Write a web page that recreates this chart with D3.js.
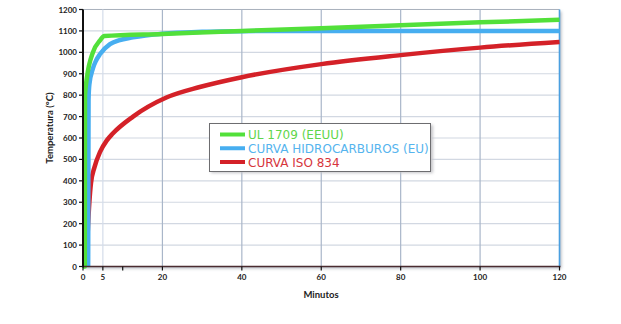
<!DOCTYPE html>
<html>
<head>
<meta charset="utf-8">
<script src="https://cdn.jsdelivr.net/npm/d3@7"></script>
<style>
  body { margin: 0; background: #fff; }
  svg { display: block; }
  .tick-label { font-family: Lato, "DejaVu Sans", sans-serif; font-weight: bold; font-size: 8px; fill: #222; }
  .axis-title { font-family: Lato, "DejaVu Sans", sans-serif; font-weight: bold; font-size: 9.5px; fill: #222; }
  .legend-text { font-family: "DejaVu Sans", Verdana, sans-serif; font-size: 12px; }
</style>
</head>
<body>
<div id="main"></div>
<script>
// tiempo (min) / temperatura (°C)
const ulTime = [0, 0.45, 0.5, 1, 2.5, 4.3, 5.4, 20, 40, 60, 80, 100, 120];
const ulTemp = [0, 0, 800, 883, 1000, 1056, 1076, 1086, 1100, 1112, 1126, 1140, 1152];

const hcTime = [1.3, 1.4, 1.6, 2.5, 3.3, 4.3, 6.8, 9, 12.6, 20, 30, 40, 60, 80, 100, 120];
const hcTemp = [0, 780, 850, 925, 962, 992, 1038, 1056, 1070, 1087, 1096, 1099, 1100, 1100, 1100, 1100];

const isoTime = [1.0, 1.25, 2, 2.9, 4.3, 6, 7.5, 12.6, 21, 29.4, 40, 60, 80, 100, 120];
const isoTemp = [80, 184, 388, 464, 535, 589, 621, 700, 789, 838, 884, 945, 987, 1022, 1048];

const seriesNames = ['UL 1709 (EEUU)', 'CURVA HIDROCARBUROS (EU)', 'CURVA ISO 834'];
const xTicks = [0, 5, 20, 40, 60, 80, 100, 120];
const xMinorTicks = [10];
const xGrid = [5, 20, 40, 60, 80, 100];
const yTicks = [0, 100, 200, 300, 400, 500, 600, 700, 800, 900, 1000, 1100, 1200];

const W = 621, H = 324;
const svg = d3.select('#main').append('svg').attr('width', W).attr('height', H);

const x = d3.scaleLinear().domain([0, 120]).range([83, 559.5]);
const y = d3.scaleLinear().domain([0, 1200]).range([266.5, 9.5]);

const defs = svg.append('defs');
const blur = defs.append('filter').attr('id', 'shadow').attr('x', '-10%').attr('y', '-10%').attr('width', '130%').attr('height', '130%');
blur.append('feGaussianBlur').attr('stdDeviation', 1.5);

// sombra del área de trazado
svg.append('rect')
    .attr('x', x(0) + 2).attr('y', y(1200) + 2)
    .attr('width', x(120) - x(0)).attr('height', y(0) - y(1200))
    .attr('fill', '#b8bcc4').attr('filter', 'url(#shadow)');
svg.append('rect')
    .attr('x', x(0)).attr('y', y(1200))
    .attr('width', x(120) - x(0)).attr('height', y(0) - y(1200))
    .attr('fill', '#fff');

// rejilla
svg.append('g').selectAll('line').data(yTicks.slice(1)).enter().append('line')
    .attr('x1', x(0)).attr('x2', x(120))
    .attr('y1', d => y(d)).attr('y2', d => y(d))
    .attr('stroke', d => d === 1200 ? '#aab2bd' : '#d2d8e2').attr('stroke-width', 1.2);

svg.append('g').selectAll('line').data(xGrid).enter().append('line')
    .attr('x1', d => x(d)).attr('x2', d => x(d))
    .attr('y1', y(0)).attr('y2', y(1200))
    .attr('stroke', d => d === 5 ? '#d4dcea' : '#a9b6c9').attr('stroke-width', 1.2);

// borde derecho
svg.append('line')
    .attr('x1', x(120)).attr('x2', x(120)).attr('y1', y(1200)).attr('y2', y(0))
    .attr('stroke', '#4a9fe0').attr('stroke-width', 1.6);

// curvas
const line = d3.line()
    .x(d => x(d[0])).y(d => y(d[1]))
    .curve(d3.curveMonotoneX);

const series = [
    { t: isoTime, v: isoTemp, color: '#d42128' },
    { t: hcTime, v: hcTemp, color: '#47aef0' },
    { t: ulTime, v: ulTemp, color: '#52e03a' }
];
svg.append('g').selectAll('path').data(series).enter().append('path')
    .attr('d', s => line(s.t.map((t, i) => [t, s.v[i]])))
    .attr('fill', 'none')
    .attr('stroke', s => s.color)
    .attr('stroke-width', 4.5)
    .attr('stroke-linejoin', 'round');

// eje inferior con sombra
svg.append('line')
    .attr('x1', x(0)).attr('x2', x(120) + 1).attr('y1', y(0) + 2).attr('y2', y(0) + 2)
    .attr('stroke', '#9a9aa4').attr('stroke-width', 2.5).attr('filter', 'url(#shadow)');
svg.append('line')
    .attr('x1', x(0)).attr('x2', x(120) + 1).attr('y1', y(0)).attr('y2', y(0))
    .attr('stroke', '#4a2c30').attr('stroke-width', 1.6);

// eje izquierdo
svg.append('line')
    .attr('x1', x(0)).attr('x2', x(0)).attr('y1', y(1200)).attr('y2', y(0) + 1)
    .attr('stroke', '#111').attr('stroke-width', 2);

const yAxis = svg.append('g');
yAxis.selectAll('line').data(yTicks).enter().append('line')
    .attr('x1', x(0) - 4).attr('x2', x(0))
    .attr('y1', d => y(d)).attr('y2', d => y(d))
    .attr('stroke', '#111').attr('stroke-width', 1.2);
yAxis.selectAll('text').data(yTicks).enter().append('text')
    .attr('class', 'tick-label')
    .attr('x', x(0) - 6).attr('y', d => y(d) + 3)
    .attr('text-anchor', 'end')
    .text(d => d);

const xAxis = svg.append('g');
xAxis.selectAll('line').data(xTicks.concat(xMinorTicks)).enter().append('line')
    .attr('x1', d => x(d)).attr('x2', d => x(d))
    .attr('y1', y(0)).attr('y2', y(0) + 4)
    .attr('stroke', '#111').attr('stroke-width', 1.2);
xAxis.selectAll('text').data(xTicks).enter().append('text')
    .attr('class', 'tick-label')
    .attr('x', d => x(d)).attr('y', y(0) + 13)
    .attr('text-anchor', 'middle')
    .text(d => d);

svg.append('text').attr('class', 'axis-title')
    .attr('x', 321).attr('y', 298)
    .attr('text-anchor', 'middle')
    .text('Minutos');

svg.append('text').attr('class', 'axis-title')
    .attr('transform', 'translate(53,128) rotate(-90)')
    .attr('text-anchor', 'middle')
    .text('Temperatura (°C)');

// leyenda
const legend = svg.append('g').attr('id', 'legend');
legend.append('rect')
    .attr('x', 211).attr('y', 125).attr('width', 222).attr('height', 48)
    .attr('fill', '#c4c4c8').attr('filter', 'url(#shadow)');
legend.append('rect')
    .attr('x', 209.5).attr('y', 123.5).attr('width', 221).attr('height', 48)
    .attr('fill', '#fff').attr('stroke', '#6d6d70').attr('stroke-width', 1);

const legendColors = ['#52e03a', '#47aef0', '#d42128'];
const textColors = ['#5fd64c', '#55b4ee', '#d6353c'];
const ly = d3.scaleLinear().domain([0, 2]).range([134.5, 162]);
legend.selectAll('line').data(seriesNames).enter().append('line')
    .attr('x1', 220).attr('x2', 245)
    .attr('y1', (d, i) => ly(i)).attr('y2', (d, i) => ly(i))
    .attr('stroke', (d, i) => legendColors[i]).attr('stroke-width', 4);
legend.selectAll('text').data(seriesNames).enter().append('text')
    .attr('class', 'legend-text')
    .attr('x', 248).attr('y', (d, i) => ly(i) + 4.5)
    .attr('fill', (d, i) => textColors[i])
    .text(d => d);
</script>
</body>
</html>
